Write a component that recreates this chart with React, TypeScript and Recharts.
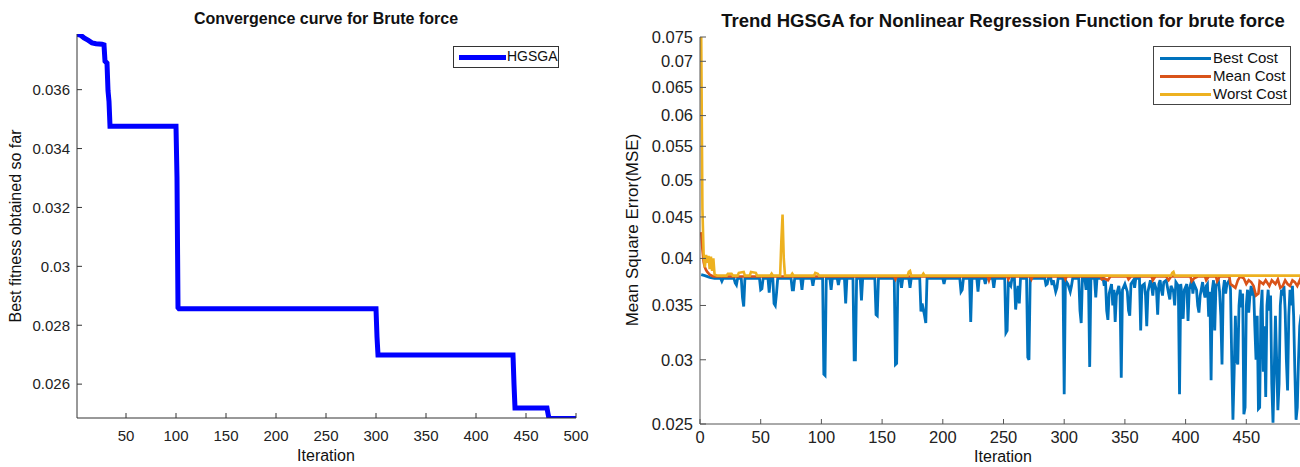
import React from "react"
import { LineChart, Line, XAxis, YAxis } from "recharts"

// ---- left: convergence curve ----
const convIter = [1, 5, 8, 12, 16, 20, 26, 28, 29, 31, 32, 33, 34, 100, 101, 102, 103, 300, 301, 302, 437, 438, 439, 471, 472, 473, 500]
const convFitness = [
  0.03789, 0.03784, 0.03776, 0.03768, 0.03759, 0.03756, 0.03754, 0.03752, 0.03697, 0.03690, 0.03597, 0.03560, 0.03476,
  0.03476, 0.03300, 0.02860, 0.02856, 0.02856, 0.02760, 0.02699, 0.02699, 0.02600, 0.02519, 0.02519, 0.02500, 0.02483, 0.02483,
]
const leftXTicks = [50, 100, 150, 200, 250, 300, 350, 400, 450, 500]
const leftYTicks = [0.026, 0.028, 0.03, 0.032, 0.034, 0.036]

// ---- right: trend (iteration, value) ----
const bestCost: [number, number][] = [
  [1, 0.0382], [4, 0.0381], [8, 0.0379], [12, 0.0378],
  [17, 0.0378], [18, 0.0375], [19, 0.0378],
  [28, 0.0378], [29, 0.0373], [30, 0.0371], [31, 0.0378],
  [34, 0.0378], [35, 0.0358], [36, 0.0349], [37, 0.0378],
  [49, 0.0378], [50, 0.0366], [51, 0.0367], [52, 0.0378],
  [56, 0.0378], [57, 0.0363], [58, 0.0378],
  [60, 0.0378], [61, 0.0352], [62, 0.035], [63, 0.0362], [64, 0.0378],
  [75, 0.0378], [76, 0.0366], [77, 0.0366], [78, 0.0378],
  [83, 0.0378], [84, 0.0366], [85, 0.0378],
  [92, 0.0378], [93, 0.037], [94, 0.0378],
  [101, 0.0378], [102, 0.0288], [103, 0.0287], [104, 0.0378],
  [107, 0.0378], [108, 0.0366], [109, 0.0378],
  [113, 0.0378], [114, 0.0371], [115, 0.0378],
  [119, 0.0378], [120, 0.0352], [121, 0.0378],
  [126, 0.0378], [127, 0.03], [128, 0.03], [129, 0.0378],
  [132, 0.0378], [133, 0.0355], [134, 0.0378],
  [144, 0.0378], [145, 0.0341], [146, 0.034], [147, 0.0378],
  [160, 0.0378], [161, 0.0296], [162, 0.0297], [163, 0.0378],
  [165, 0.0378], [166, 0.0368], [167, 0.0378],
  [172, 0.0378], [173, 0.0368], [174, 0.0378],
  [181, 0.0378], [182, 0.0344], [183, 0.0352], [185, 0.034], [186, 0.0333], [187, 0.0378],
  [200, 0.0378], [201, 0.0372], [202, 0.0378],
  [214, 0.0378], [215, 0.0364], [216, 0.0366], [217, 0.0378],
  [222, 0.0378], [223, 0.0334], [224, 0.0378],
  [228, 0.0378], [229, 0.0364], [230, 0.0378],
  [234, 0.0378], [235, 0.0372], [236, 0.0378],
  [241, 0.0378], [242, 0.0368], [243, 0.0378],
  [251, 0.0378], [252, 0.0324], [253, 0.0326], [254, 0.0374], [256, 0.037], [257, 0.0378],
  [259, 0.0378], [260, 0.0346], [261, 0.036], [262, 0.037], [263, 0.0352], [264, 0.0378],
  [269, 0.0378], [270, 0.0302], [271, 0.03], [272, 0.0378],
  [284, 0.0378], [285, 0.0371], [286, 0.0372], [287, 0.0378],
  [289, 0.0378], [290, 0.0371], [291, 0.0376], [293, 0.0364], [294, 0.0368], [295, 0.0378],
  [299, 0.0378], [300, 0.0272], [301, 0.0376], [303, 0.0372], [305, 0.0364], [306, 0.037], [307, 0.0378],
  [312, 0.0378], [313, 0.0345], [314, 0.0333], [315, 0.0378],
  [317, 0.0378], [318, 0.0366], [319, 0.0378],
  [320, 0.0378], [321, 0.0294], [322, 0.0378],
  [325, 0.0378], [326, 0.0358], [327, 0.0378],
  [332, 0.0378], [333, 0.037], [334, 0.0376], [335, 0.0345], [336, 0.0336], [337, 0.0362], [339, 0.0372],
  [340, 0.035], [341, 0.0366], [342, 0.0334], [343, 0.036], [345, 0.037], [346, 0.036], [347, 0.0285],
  [348, 0.0366], [350, 0.0372], [352, 0.0364], [353, 0.0345], [354, 0.034], [355, 0.0372], [357, 0.0376],
  [358, 0.0368], [359, 0.0378],
  [362, 0.0378], [363, 0.0326], [364, 0.037], [366, 0.0372], [367, 0.036], [368, 0.033], [369, 0.0364],
  [371, 0.0376], [372, 0.037], [373, 0.036], [374, 0.0374], [376, 0.0366], [377, 0.0341], [378, 0.0372],
  [379, 0.0376], [380, 0.0366], [381, 0.036], [382, 0.0374], [384, 0.0376], [386, 0.0362], [387, 0.0356],
  [388, 0.037], [390, 0.0364], [391, 0.035], [392, 0.0374], [394, 0.037], [395, 0.0272], [396, 0.0372],
  [397, 0.036], [398, 0.0337], [399, 0.0366], [401, 0.0372], [402, 0.0335], [403, 0.0366], [405, 0.0376],
  [406, 0.0362], [407, 0.0372], [409, 0.0366], [410, 0.035], [411, 0.0343], [412, 0.036], [414, 0.0374],
  [415, 0.0364], [416, 0.0358], [417, 0.037], [418, 0.0372], [419, 0.0339], [420, 0.0364], [421, 0.0283],
  [422, 0.0366], [423, 0.0376], [424, 0.0326], [425, 0.037], [427, 0.0376], [428, 0.0364], [429, 0.034],
  [430, 0.0296], [431, 0.0366], [432, 0.0376], [433, 0.0362], [434, 0.0372], [436, 0.0376], [437, 0.0366],
  [438, 0.03], [439, 0.0253], [440, 0.029], [441, 0.034], [442, 0.03], [443, 0.0296], [444, 0.035],
  [445, 0.0366], [446, 0.0348], [447, 0.0362], [448, 0.0257], [449, 0.0262], [450, 0.035], [451, 0.0366],
  [452, 0.0343], [453, 0.036], [454, 0.037], [455, 0.036], [456, 0.0368], [457, 0.033], [458, 0.03],
  [459, 0.034], [460, 0.0261], [461, 0.0262], [462, 0.0345], [463, 0.0366], [464, 0.029], [465, 0.033],
  [466, 0.027], [467, 0.035], [468, 0.0366], [469, 0.0345], [470, 0.036], [471, 0.028], [472, 0.0251],
  [473, 0.029], [474, 0.034], [475, 0.03], [476, 0.026], [477, 0.028], [478, 0.035], [479, 0.0366],
  [480, 0.036], [481, 0.037], [482, 0.0345], [483, 0.03], [484, 0.0275], [485, 0.034], [486, 0.0366],
  [487, 0.035], [488, 0.037], [489, 0.034], [490, 0.029], [491, 0.0253], [492, 0.0262], [493, 0.03],
  [494, 0.033], [495, 0.034], [496, 0.0345], [498, 0.0344], [500, 0.0346],
]

const meanCost: [number, number][] = [
  [1, 0.0431], [2, 0.041], [3, 0.0396], [4, 0.039], [5, 0.0387], [6, 0.0385], [8, 0.0382], [11, 0.038],
  [160, 0.038], [161, 0.0377], [162, 0.038], [237, 0.038], [238, 0.0376], [239, 0.038],
  [253, 0.038], [254, 0.0377], [255, 0.038], [272, 0.038], [273, 0.0377], [274, 0.038],
  [300, 0.038], [301, 0.0377], [302, 0.038], [330, 0.038], [331, 0.0377], [333, 0.0378], [336, 0.0376],
  [338, 0.038], [352, 0.038], [353, 0.0377], [355, 0.038], [372, 0.038], [373, 0.0376], [375, 0.038],
  [384, 0.038], [386, 0.0376], [388, 0.038], [404, 0.038], [405, 0.0375], [407, 0.0378], [410, 0.038],
  [416, 0.038], [417, 0.0376], [419, 0.038], [425, 0.038], [426, 0.0375], [428, 0.038], [436, 0.038],
  [437, 0.0372], [439, 0.037], [441, 0.0368], [443, 0.0376], [445, 0.038], [448, 0.0378], [450, 0.0372],
  [452, 0.0376], [454, 0.0374], [456, 0.037], [458, 0.036], [460, 0.0362], [461, 0.0375], [464, 0.0372],
  [466, 0.0376], [469, 0.037], [471, 0.0376], [474, 0.0372], [476, 0.0377], [478, 0.0368], [480, 0.037],
  [482, 0.0376], [484, 0.0372], [486, 0.037], [488, 0.0376], [490, 0.0374], [492, 0.037], [494, 0.0376],
  [496, 0.0368], [498, 0.0372], [500, 0.037],
]

const worstCost: [number, number][] = [
  [1, 0.075], [2, 0.046], [3, 0.0405], [4, 0.039], [5, 0.0404], [6, 0.0395], [7, 0.0403], [8, 0.0388],
  [9, 0.0402], [10, 0.0386], [11, 0.04], [12, 0.0382], [14, 0.0381],
  [22, 0.0381], [23, 0.0383], [26, 0.0383], [27, 0.0381],
  [31, 0.0381], [32, 0.0384], [36, 0.0385], [37, 0.0381],
  [41, 0.0381], [42, 0.0385], [46, 0.0384], [47, 0.0381],
  [58, 0.0381], [59, 0.0383], [60, 0.0381],
  [66, 0.0381], [67, 0.042], [68, 0.0453], [69, 0.04], [70, 0.0381],
  [75, 0.0381], [76, 0.0383], [77, 0.0381],
  [94, 0.0381], [95, 0.0384], [97, 0.0383], [98, 0.0381],
  [171, 0.0381], [172, 0.0385], [173, 0.0386], [174, 0.0381],
  [183, 0.0381], [184, 0.0383], [185, 0.0381],
  [388, 0.0381], [389, 0.0384], [390, 0.0385], [391, 0.0381],
  [500, 0.0381],
]

const rightXTicks = [0, 50, 100, 150, 200, 250, 300, 350, 400, 450]
const rightTopTicks = [0, 50, 100, 150, 200, 250, 300, 350, 400, 450, 500]
const rightYTicks = [0.025, 0.03, 0.035, 0.04, 0.045, 0.05, 0.055, 0.06, 0.065, 0.07, 0.075]
const rightYMinorTicks = [
  0.026, 0.027, 0.028, 0.029, 0.031, 0.032, 0.033, 0.034, 0.036, 0.037, 0.038, 0.039,
  0.041, 0.042, 0.043, 0.044,
]

const FONT = '"Liberation Sans", Arial, Helvetica, sans-serif'
const toPoints = (list: [number, number][]) => list.map(([x, y]) => ({ x, y }))

function ConvergenceChart() {
  const data = convIter.map((x, i) => ({ x, y: convFitness[i] }))
  const tick = { fill: "#222", fontSize: 15, fontFamily: FONT }
  return (
    <LineChart width={600} height={467} data={data} margin={{ top: 34, right: 24, bottom: 19, left: 0 }}>
      <XAxis dataKey="x" type="number" domain={[1, 500]} ticks={leftXTicks} allowDataOverflow interval={0}
        height={30} tickSize={-5} tickMargin={17} stroke="#333" tick={tick} />
      <XAxis xAxisId="top" orientation="top" type="number" domain={[1, 500]} ticks={leftXTicks} interval={0}
        allowDataOverflow height={0} tickSize={-5} tick={false} stroke="#333" />
      <YAxis type="number" domain={[0.02485, 0.03789]} ticks={leftYTicks} allowDataOverflow width={77} interval={0}
        tickSize={-5} tickMargin={12} stroke="#333" tick={tick} tickFormatter={(v) => String(v)} />
      <YAxis yAxisId="r" orientation="right" type="number" domain={[0.02485, 0.03789]} ticks={leftYTicks}
        interval={0} allowDataOverflow width={0} tickSize={-5} tick={false} stroke="#333" />
      <Line dataKey="y" stroke="#0000FF" strokeWidth={5} dot={false} isAnimationActive={false} />
    </LineChart>
  )
}

function TrendChart() {
  const tick = { fill: "#222", fontSize: 16.5, fontFamily: FONT }
  return (
    <LineChart width={712} height={467} margin={{ top: 37, right: 5, bottom: 13, left: 0 }}>
      <XAxis dataKey="x" type="number" domain={[0, 500]} ticks={rightXTicks} allowDataOverflow interval={0}
        height={30} tickSize={-5} tickMargin={12} stroke="#555" tick={tick} />
      <XAxis xAxisId="top" orientation="top" type="number" domain={[0, 500]} ticks={rightTopTicks} interval={0}
        allowDataOverflow height={0} tickSize={-5} tick={false} stroke="#555" />
      <YAxis yAxisId="minor" scale="log" type="number" domain={[0.025, 0.075]} ticks={rightYMinorTicks} interval={0}
        allowDataOverflow width={0} tickSize={-3} tick={false} axisLine={false} stroke="#555" />
      <YAxis scale="log" type="number" domain={[0.025, 0.075]} ticks={rightYTicks} allowDataOverflow interval={0}
        width={100} tickSize={-6} tickMargin={13} stroke="#555" tick={tick} tickFormatter={(v) => String(v)} />
      <Line data={toPoints(bestCost)} dataKey="y" stroke="#0072BD" strokeWidth={2.8} dot={false} isAnimationActive={false} />
      <Line data={toPoints(meanCost)} dataKey="y" stroke="#D95319" strokeWidth={2.6} dot={false} isAnimationActive={false} />
      <Line data={toPoints(worstCost)} dataKey="y" stroke="#EDB120" strokeWidth={2.6} dot={false} isAnimationActive={false} />
    </LineChart>
  )
}

const abs = (left: number, top: number): React.CSSProperties => ({
  position: "absolute", left, top, whiteSpace: "nowrap", fontFamily: FONT, color: "#111",
})

export default function App() {
  return (
    <div style={{ position: "absolute", left: 0, top: 0, width: 1300, height: 467, overflow: "hidden", background: "#fff" }}>
      <div style={{ position: "absolute", left: 0, top: 0 }}>
        <ConvergenceChart />
      </div>
      <div style={{ position: "absolute", left: 600, top: 0 }}>
        <TrendChart />
      </div>

      {/* left texts */}
      <div style={{ ...abs(326, 19), transform: "translate(-50%,-50%)", fontSize: 16, fontWeight: "bold" }}>
        Convergence curve for Brute force
      </div>
      <div style={{ ...abs(326, 456), transform: "translate(-50%,-50%)", fontSize: 16 }}>Iteration</div>
      <div style={{ ...abs(16, 226), transform: "translate(-50%,-50%) rotate(-90deg)", fontSize: 16 }}>
        Best fitness obtained so far
      </div>
      <div style={{ ...abs(453, 46), width: 104, height: 20, border: "1px solid #333", background: "#fff" }}>
        <div style={{ position: "absolute", left: 5, top: 8, width: 47, height: 5, background: "#0000FF" }} />
        <div style={{ position: "absolute", left: 53, top: 1, fontSize: 14 }}>HGSGA</div>
      </div>

      {/* right texts */}
      <div style={{ ...abs(1003, 21), transform: "translate(-50%,-50%)", fontSize: 18.5, fontWeight: "bold" }}>
        Trend HGSGA for Nonlinear Regression Function for brute force
      </div>
      <div style={{ ...abs(1003, 457), transform: "translate(-50%,-50%)", fontSize: 16 }}>Iteration</div>
      <div style={{ ...abs(633, 230), transform: "translate(-50%,-50%) rotate(-90deg)", fontSize: 17 }}>
        Mean Square Error(MSE)
      </div>
      <div style={{ ...abs(1153, 46), width: 136, height: 57, border: "1px solid #444", background: "#fff" }}>
        {[["Best Cost", "#0072BD"], ["Mean Cost", "#D95319"], ["Worst Cost", "#EDB120"]].map(([name, color], i) => (
          <div key={name}>
            <div style={{ position: "absolute", left: 6, top: 10 + i * 18, width: 51, height: 3, background: color }} />
            <div style={{ position: "absolute", left: 59, top: 2 + i * 18, fontSize: 15 }}>{name}</div>
          </div>
        ))}
      </div>
    </div>
  )
}
